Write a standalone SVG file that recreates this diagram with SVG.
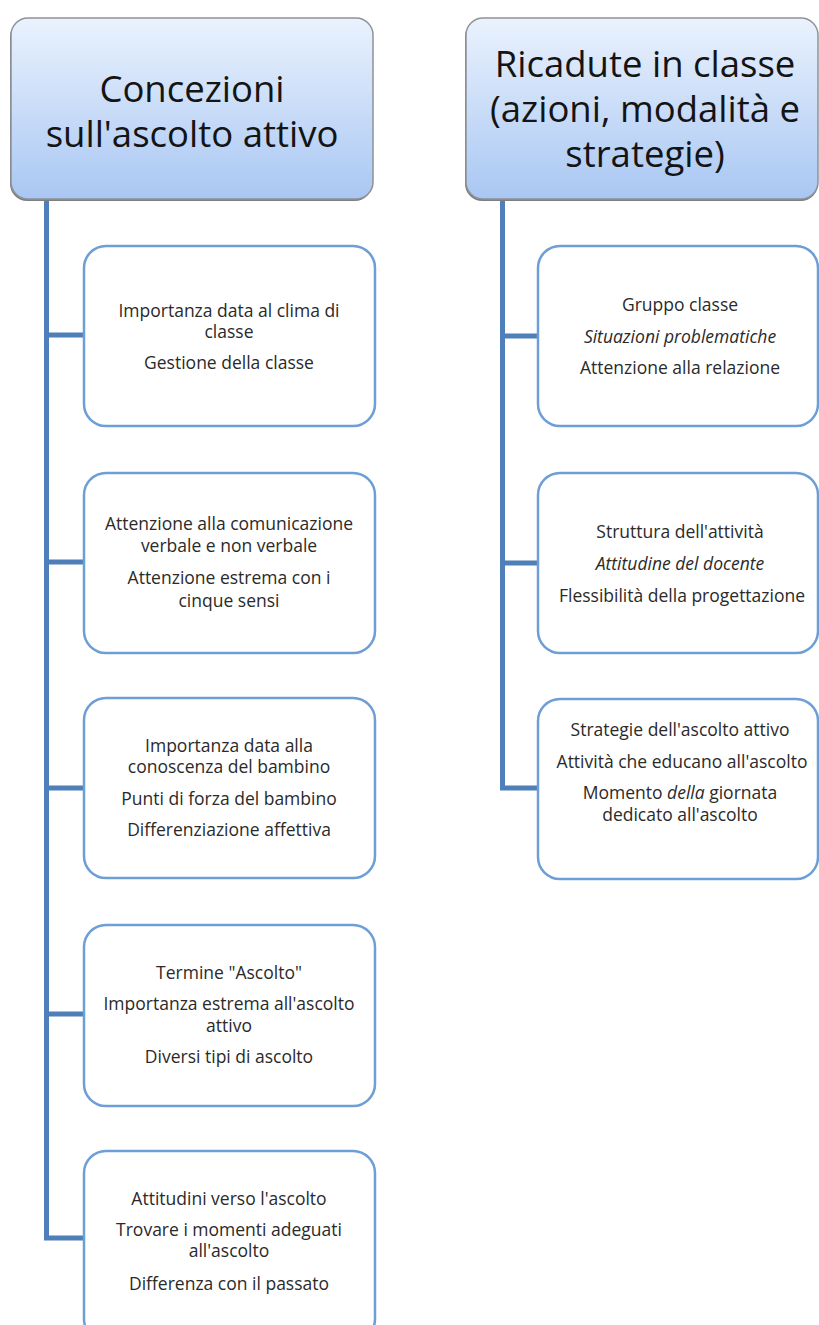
<svg xmlns="http://www.w3.org/2000/svg" width="819" height="1325" viewBox="0 0 819 1325">
<defs>
<linearGradient id="hg" x1="0" y1="0" x2="0" y2="1">
<stop offset="0" stop-color="#eaf2fd"/>
<stop offset="1" stop-color="#a9c7f3"/>
</linearGradient>
<style>
.hdr{fill:url(#hg);stroke:#8f9296;stroke-width:1.5}
.hsh{fill:#7d7f82}
.box{fill:#ffffff;stroke:#6d9ed6;stroke-width:2.5}
.ht{font-family:"Open Sans","Liberation Sans",sans-serif;font-size:36.5px;fill:#141414;text-anchor:middle}
.ct{font-family:"Open Sans","Liberation Sans",sans-serif;font-size:17.5px;fill:#2a2a2a;text-anchor:middle}
.it{font-style:italic}
.cn{fill:none;stroke:#4f7fb9;stroke-width:5}
</style>
</defs>
<rect width="819" height="1325" fill="#ffffff"/>
<g id="connectors">
<path class="cn" d="M46.5 199 V1240 M44 335 H84 M44 562 H84 M44 788 H84 M44 1014 H84 M44 1238 H84"/>
<path class="cn" d="M502.5 199 V790 M500 336 H538 M500 563 H538 M500 788 H538"/>
</g>
<g id="h1">
<rect class="hsh" x="10" y="20" width="362" height="181" rx="17"/>
<rect class="hdr" x="11" y="18" width="362" height="181" rx="17"/>
<text class="ht" x="192" y="102">Concezioni<tspan x="192" dy="45">sull'ascolto attivo</tspan></text>
</g>
<g id="h2">
<rect class="hsh" x="465" y="20" width="353" height="181" rx="17"/>
<rect class="hdr" x="466" y="18" width="352" height="181" rx="17"/>
<text class="ht" x="645" y="77">Ricadute in classe<tspan x="645" dy="45">(azioni, modalità e</tspan><tspan x="645" dy="45">strategie)</tspan></text>
</g>
<g id="l1">
<rect class="box" x="84" y="246" width="291" height="180" rx="22"/>
<text class="ct" x="229" y="317">Importanza data al clima di<tspan x="229" dy="21">classe</tspan></text>
<text class="ct" x="229" y="369">Gestione della classe</text>
</g>
<g id="l2">
<rect class="box" x="84" y="473" width="291" height="180" rx="22"/>
<text class="ct" x="229" y="530">Attenzione alla comunicazione<tspan x="229" dy="22">verbale e non verbale</tspan></text>
<text class="ct" x="229" y="584">Attenzione estrema con i<tspan x="229" dy="23">cinque sensi</tspan></text>
</g>
<g id="l3">
<rect class="box" x="84" y="698" width="291" height="180" rx="22"/>
<text class="ct" x="229" y="752">Importanza data alla<tspan x="229" dy="21">conoscenza del bambino</tspan></text>
<text class="ct" x="229" y="805">Punti di forza del bambino</text>
<text class="ct" x="229" y="836">Differenziazione affettiva</text>
</g>
<g id="l4">
<rect class="box" x="84" y="925" width="291" height="181" rx="22"/>
<text class="ct" x="229" y="979">Termine "Ascolto"</text>
<text class="ct" x="229" y="1010">Importanza estrema all'ascolto<tspan x="229" dy="22">attivo</tspan></text>
<text class="ct" x="229" y="1063">Diversi tipi di ascolto</text>
</g>
<g id="l5">
<rect class="box" x="84" y="1151" width="291" height="190" rx="22"/>
<text class="ct" x="229" y="1205">Attitudini verso l'ascolto</text>
<text class="ct" x="229" y="1236">Trovare i momenti adeguati<tspan x="229" dy="21">all'ascolto</tspan></text>
<text class="ct" x="229" y="1290">Differenza con il passato</text>
</g>
<g id="r1">
<rect class="box" x="538" y="246" width="280" height="180" rx="22"/>
<text class="ct" x="680" y="311">Gruppo classe</text>
<text class="ct it" x="680" y="343">Situazioni problematiche</text>
<text class="ct" x="680" y="374">Attenzione alla relazione</text>
</g>
<g id="r2">
<rect class="box" x="538" y="473" width="280" height="180" rx="22"/>
<text class="ct" x="680" y="538">Struttura dell'attività</text>
<text class="ct it" x="680" y="570">Attitudine del docente</text>
<text class="ct" x="682" y="602">Flessibilità della progettazione</text>
</g>
<g id="r3">
<rect class="box" x="538" y="699" width="280" height="180" rx="22"/>
<text class="ct" x="680" y="736">Strategie dell'ascolto attivo</text>
<text class="ct" x="682" y="768">Attività che educano all'ascolto</text>
<text class="ct" x="680" y="799">Momento <tspan class="it">della</tspan> giornata<tspan x="680" dy="22">dedicato all'ascolto</tspan></text>
</g>
</svg>
